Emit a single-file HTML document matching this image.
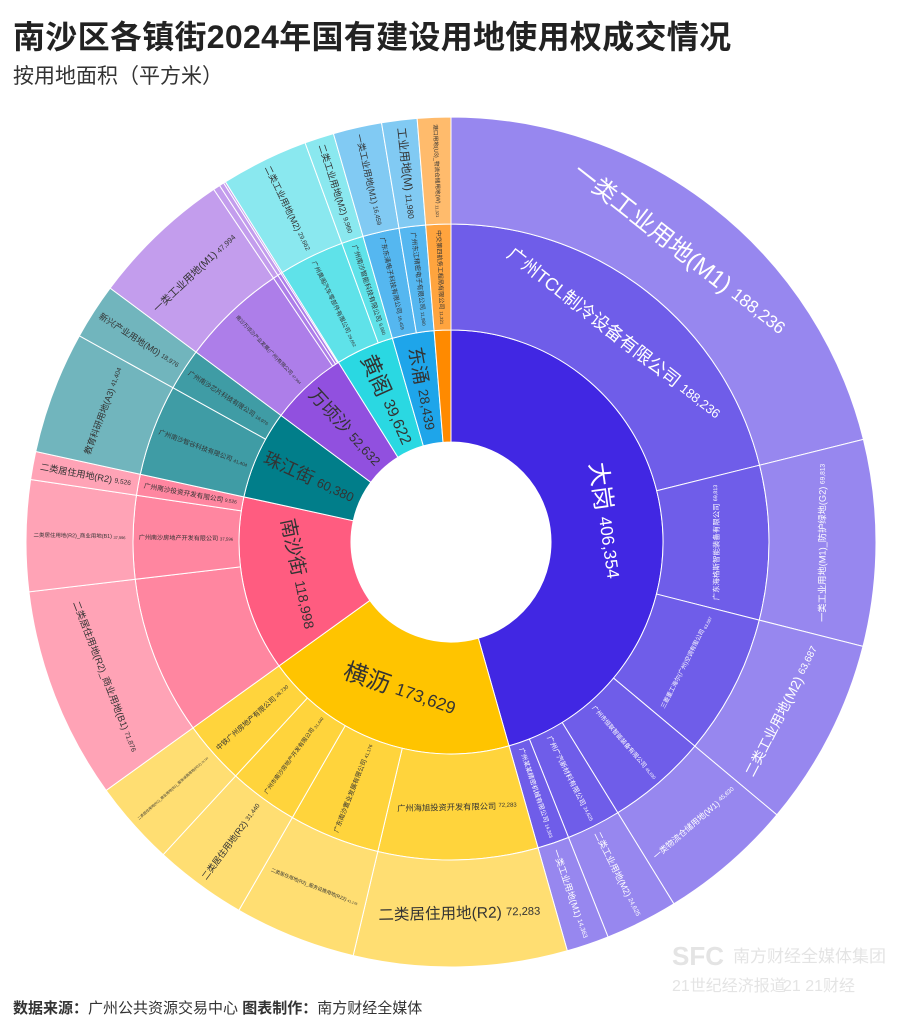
<!DOCTYPE html>
<html><head><meta charset="utf-8">
<style>
html,body{margin:0;padding:0;background:#fff;}
body{width:899px;height:1032px;position:relative;overflow:hidden;font-family:"Liberation Sans","Noto Sans CJK SC",sans-serif;}
#title{position:absolute;left:13px;top:12px;font-size:32px;font-weight:bold;color:#222;letter-spacing:0.3px;}
#subtitle{position:absolute;left:13px;top:60px;font-size:21px;color:#333;}
#footer{position:absolute;left:13px;top:997px;font-size:15px;color:#333;}
#chart{position:absolute;left:0;top:0;}
</style></head>
<body>
<div id="title">南沙区各镇街2024年国有建设用地使用权成交情况</div>
<div id="subtitle">按用地面积（平方米）</div>
<svg id="chart" width="899" height="1032">
  <g id="wm" fill="#e4e4e4" font-family="Liberation Sans, Noto Sans CJK SC, sans-serif">
    <text x="672" y="965" font-size="26" font-weight="bold">SFC</text>
    <text x="733" y="962" font-size="17">南方财经全媒体集团</text>
    <text x="672" y="991" font-size="16">21世纪经济报道</text>
    <text x="783" y="991" font-size="16">21 21财经</text>
  </g>
</svg>
<div id="footer"><b>数据来源：</b>广州公共资源交易中心 <b>图表制作：</b>南方财经全媒体</div>
<script>
const districts = ["大岗","横沥","南沙街","珠江街","万顷沙","黄阁","东涌","龙穴"];
const districtValues = [406354,173629,118998,60380,52632,39622,28439,11321];
const companyNames = [
 ["广州TCL制冷设备有限公司","广东海格斯智能装备有限公司","三菱重工海尔(广州)空调有限公司","广州市恒联智能装备有限公司","广州广汽新材料有限公司","广州某某精密机械有限公司"],
 ["广州海旭投资开发有限公司","广东南沙置业发展有限公司","广州市南沙房地产开发有限公司","中铁广州房地产有限公司"],
 ["","广州南沙房地产开发有限公司","广州南沙投资开发有限公司"],
 ["广州南沙智谷科技有限公司","广州南沙芯片科技有限公司"],
 ["南沙万顷沙产业发展(广州)有限公司","广州某科技有限公司","广州某实业有限公司","广州某制造有限公司"],
 ["广州黄阁汽车零部件有限公司","广州南沙智能科技有限公司"],
 ["广东东涌电子科技有限公司","广州东江精密电子有限公司"],
 ["中交第四航务工程局有限公司"]
];
const companyValues = [
 [188236,69813,63687,45630,24625,14363],
 [72283,41176,31440,28730],
 [71876,37596,9526],
 [41404,18976],
 [47994,2338,1600,700],
 [29662,9960],
 [16459,11980],
 [11321]
];
const landUseNames = [
 ["一类工业用地(M1)","一类工业用地(M1)_防护绿地(G2)","二类工业用地(M2)","一类物流仓储用地(W1)","二类工业用地(M2)","一类工业用地(M1)"],
 ["二类居住用地(R2)","二类居住用地(R2)_服务设施用地(R22)","二类居住用地(R2)","二类居住用地(R2)_商业用地(B1)_服务设施用地(R22)"],
 ["二类居住用地(R2)_商业用地(B1)","二类居住用地(R2)_商业用地(B1)","二类居住用地(R2)"],
 ["教育科研用地(A3)","新兴产业用地(M0)"],
 ["一类工业用地(M1)","一类工业用地(M1)","一类工业用地(M1)","一类工业用地(M1)"],
 ["二类工业用地(M2)","二类工业用地(M2)"],
 ["一类工业用地(M1)","工业用地(M)"],
 ["港口用地(U3)_物流仓储用地(W)"]
];
const landUseValues = companyValues.map(a=>a.slice());

const palette = [
 ["#4127E3","#6F5DE9","#9787EF"],
 ["#FFC400","#FFD43C","#FFDE72"],
 ["#FF5C80","#FF86A0","#FFA3B6"],
 ["#017E8A","#3F9CA5","#71B5BD"],
 ["#9150DF","#AD7EE9","#C39DED"],
 ["#2AD8E2","#5FE2E9","#8AE8EF"],
 ["#1EA5EA","#55B7F0","#81CAF3"],
 ["#FF8A00","#FFA43E","#FFBB6C"]
];
const textColors = ["#ffffff","#333","#333","#333","#333","#333","#333","#333"];

const CX=451, CY=542;
const radii=[100,212,318,425];
const caps=[24,18,24];
const minSpan=[6,1.2,1.2];
const svg=document.getElementById('chart');
const NS="http://www.w3.org/2000/svg";
const total=districtValues.reduce((a,b)=>a+b,0);
function ang(v){return v/total*360;}
function pt(r,a){const t=a*Math.PI/180;return [CX+r*Math.sin(t),CY-r*Math.cos(t)];}
function arcPath(r0,r1,a0,a1){
  const large=(a1-a0)>180?1:0;
  const p0=pt(r1,a0),p1=pt(r1,a1),p2=pt(r0,a1),p3=pt(r0,a0);
  return `M${p0[0]},${p0[1]}A${r1},${r1} 0 ${large} 1 ${p1[0]},${p1[1]}L${p2[0]},${p2[1]}A${r0},${r0} 0 ${large} 0 ${p3[0]},${p3[1]}Z`;
}
function emLen(s){let n=0;for(const c of s){n+=(c.charCodeAt(0)>255)?1:0.56;}return n;}
function norm(r){r=((r%360)+360)%360;if(r>180)r-=360;if(r>90)r-=180;if(r<-90)r+=180;return r;}
const gSlices=document.createElementNS(NS,'g');


svg.appendChild(gSlices);
const gLabels=document.createElementNS(NS,'g');


svg.appendChild(gLabels);

function slice(ring,a0,a1,color,name){
  const p=document.createElementNS(NS,'path');
  p.setAttribute('d',arcPath(radii[ring],radii[ring+1],a0,a1));
  p.setAttribute('fill',color);
  p.setAttribute('stroke','#fff');
  p.setAttribute('stroke-width','1');
  
  
  gSlices.appendChild(p);
}
function label(ring,a0,a1,name,value,color){
  const span=a1-a0; if(span<minSpan[ring]||!name) return;
  const rm=(radii[ring]+radii[ring+1])/2, thick=radii[ring+1]-radii[ring];
  const valStr=value.toLocaleString('en-US');
  const L=emLen(name)+0.3+emLen(valStr)*0.72;
  const arc=rm*span*Math.PI/180;
  let fsT=Math.min(arc*0.9/L, thick*0.45);
  let fsR=Math.min((thick-10)/L, arc*0.6);
  const am=(a0+a1)/2;
  let fs,rot;
  if(fsT>=fsR){fs=fsT;rot=norm(am);}else{fs=fsR;rot=norm(am-90);}
  fs=Math.min(fs,caps[ring]);
  const p=pt(rm,am);
  const t=document.createElementNS(NS,'text');
  t.setAttribute('x',p[0]);t.setAttribute('y',p[1]);
  t.setAttribute('text-anchor','middle');
  t.setAttribute('dominant-baseline','central');
  t.setAttribute('font-size',fs.toFixed(2));
  t.setAttribute('fill',color);
  t.setAttribute('font-family','Liberation Sans, Noto Sans CJK SC, sans-serif');
  t.setAttribute('transform',`rotate(${rot.toFixed(2)} ${p[0]} ${p[1]})`);
  
  
  const s1=document.createElementNS(NS,'tspan');s1.textContent=name+' ';
  const s2=document.createElementNS(NS,'tspan');s2.textContent=valStr;s2.setAttribute('font-size',(fs*0.72).toFixed(2));
  t.appendChild(s1);t.appendChild(s2);
  gLabels.appendChild(t);
}
let a=0;
districts.forEach((d,i)=>{
  const a0=a,a1=a+ang(districtValues[i]);
  slice(0,a0,a1,palette[i][0],'district-slice');
  label(0,a0,a1,d,districtValues[i],textColors[i]);
  let b=a0;
  companyValues[i].forEach((v,j)=>{
    const b1=b+ang(v);
    slice(1,b,b1,palette[i][1],'company-slice');
    label(1,b,b1,companyNames[i][j],v,textColors[i]);
    b=b1;
  });
  let c=a0;
  landUseValues[i].forEach((v,j)=>{
    const c1=c+ang(v);
    slice(2,c,c1,palette[i][2],'land-use-slice');
    label(2,c,c1,landUseNames[i][j],v,textColors[i]);
    c=c1;
  });
  a=a1;
});
svg.appendChild(document.getElementById('wm'));
</script>
</body></html>
